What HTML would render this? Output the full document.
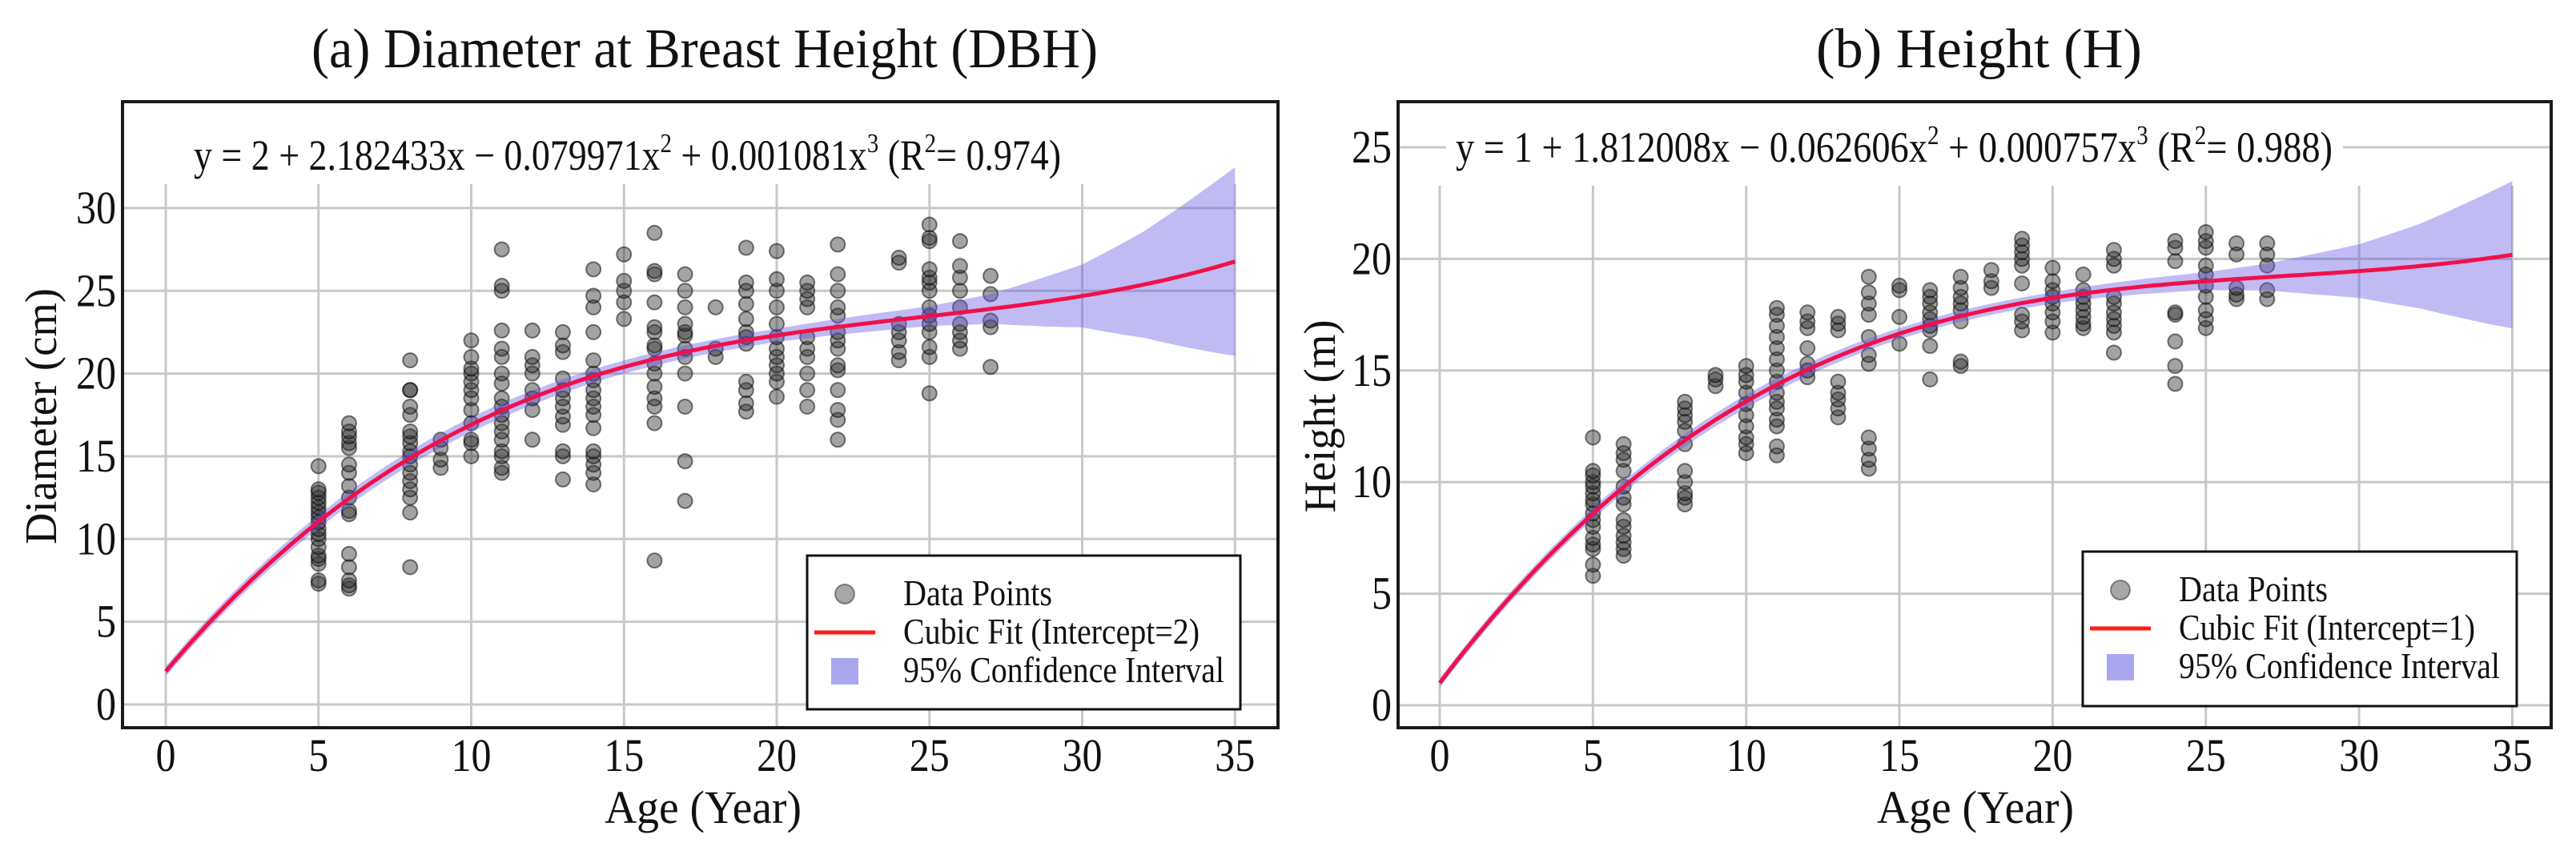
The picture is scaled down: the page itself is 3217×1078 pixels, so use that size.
<!DOCTYPE html>
<html><head><meta charset="utf-8"><style>
html,body{margin:0;padding:0;background:#fff;}
svg, svg text{font-family:"Liberation Serif","DejaVu Serif",serif;}
</style></head><body>
<svg id="fig" width="3217" height="1073" viewBox="0 0 3217 1073" xmlns="http://www.w3.org/2000/svg" font-family="Liberation Serif, DejaVu Serif, serif"></svg>
<script>
// ---- Data ----
const xTicks = [0,5,10,15,20,25,30,35];
const dbhYTicks = [0,5,10,15,20,25,30];
const hYTicks = [0,5,10,15,20,25];
const dbhCoef = [2, 2.182433, -0.079971, 0.001081];
const hCoef = [1, 1.812008, -0.062606, 0.000757];
const ciAges = [0,5,10,15,20,25,27,30,32,35];
const dbhCiHalf = [0.3,0.4,0.45,0.4,0.4,0.6,0.9,1.9,3.2,5.7];
const hCiHalf = [0.2,0.25,0.3,0.25,0.25,0.4,0.6,1.2,1.9,3.3];
const ages = [5,6,8,9,10,11,12,13,14,15,16,17,18,19,20,21,22,24,25,26,27];
const dbhValues = [
 [7.3,7.5,8.5,8.8,9,9.5,10,10.3,10.6,11,11.3,11.6,11.9,12.2,12.5,12.8,13,14.4],
 [7,7.2,7.5,8.3,9.1,11.5,11.7,12.5,13.2,14,14.5,15.5,15.8,16.2,16.5,17],
 [8.3,11.6,12.5,13,13.5,14,14.5,15,15.3,15.8,16.2,16.5,17.5,18,19,19,20.8],
 [14.3,14.8,15.5,16],
 [15,15.8,16,17,17.8,18.5,19,19.5,20,20.3,21,22],
 [14,14.3,15,15.3,16,16.5,17,17.5,18,18.5,19.4,20,21,21.5,22.6,25,25.3,27.5],
 [16,17.8,18.5,19,20,20.5,21,22.6],
 [13.6,15,15.3,16.9,17.4,18,18.5,19,19.7,21.3,21.7,22.5],
 [13.3,14,14.5,15,15.3,16.7,17.5,18,18.5,19,19.6,20,20.8,22.5,24,24.7,26.3],
 [23.3,24.3,25,25.6,27.2],
 [8.7,17,18,18.5,19.2,20,20.6,21.5,21.7,22.5,22.8,24.3,26,26.2,28.5],
 [12.3,14.7,18,20,21,21.5,22.3,22.5,23,24,25,26],
 [21,21.5,24],
 [17.7,18.2,19,19.5,21.8,22.2,22.5,23.3,24.2,25,25.5,27.6],
 [18.6,19.5,20,20.5,21,21.5,22.2,23,24,25,25.7,27.4],
 [18,19,20,21,21.5,22.2,24,24.5,25,25.5],
 [16,17.2,17.8,19,20.2,20.5,21.5,22,22.5,23.5,24,25,26,27.8],
 [20.8,21.3,22,22.5,23,26.7,27],
 [18.8,21,21.6,22.5,23,23.5,24,25,25.5,25.8,26.3,28,28.2,29],
 [21.5,22,22.5,23,24,25,25.8,26.5,28],
 [20.4,22.8,23.2,24.8,25.9]
];
const hValues = [
 [5.8,6.3,7,7.2,7.5,8,8.3,8.6,9,9.2,9.5,9.8,10,10.3,10.5,12],
 [6.7,7,7.3,7.6,8,8.3,9,9.3,9.8,10.5,11,11.3,11.7],
 [9,9.3,9.5,10,10.5,11.7,12.3,12.7,13,13.3,13.6],
 [14.3,14.6,14.8],
 [11.3,11.7,12,12.5,13,13.5,14,14.5,14.8,15.2],
 [11.2,11.6,12.5,12.8,13.3,13.6,14,14.5,15,15.5,16,16.5,17,17.5,17.8],
 [14.7,15,15.3,16,16.9,17.2,17.6],
 [12.9,13.3,13.7,14,14.5,16.8,17.1,17.4],
 [10.6,11,11.5,12,15.3,15.7,16.5,17.5,18,18.5,19.2],
 [16.2,17.4,18.6,18.8],
 [14.6,16.1,16.8,17,17.3,17.6,18,18.3,18.6],
 [15.2,15.4,17.2,17.7,18,18.3,18.7,19.2],
 [18.7,19,19.5],
 [16.8,17.2,17.5,18.9,19.7,20,20.3,20.6,20.9],
 [16.7,17.2,17.6,18,18.3,18.6,19,19.6],
 [16.9,17.1,17.4,17.7,18,18.3,18.6,19.3],
 [15.8,16.7,17,17.3,17.6,18,18.3,19.7,20,20.4],
 [14.4,15.2,16.3,17.5,17.6,19.9,20.5,20.8],
 [16.9,17.3,17.7,18.3,18.8,19.3,19.7,20.5,20.8,21.2],
 [18.2,18.4,18.7,20.2,20.7],
 [18.2,18.6,19.7,20.2,20.7]
];

const NS = "http://www.w3.org/2000/svg";
const FONT = '"Liberation Serif", "DejaVu Serif", serif';
const svg = document.getElementById('fig');
function mk(tag, attrs, parent){
  const e = document.createElementNS(NS, tag);
  for (const k in attrs) e.setAttribute(k, attrs[k]);
  if (tag === 'text') e.style.fontFamily = FONT;
  (parent||svg).appendChild(e);
  return e;
}
function interp(xs, ys, x){
  for (let i=0;i<xs.length-1;i++){
    if (x<=xs[i+1]){ const t=(x-xs[i])/(xs[i+1]-xs[i]); return ys[i]+t*(ys[i+1]-ys[i]); }
  }
  return ys[ys.length-1];
}
function poly(c,x){ return c[0]+c[1]*x+c[2]*x*x+c[3]*x*x*x; }

function panel(cfg){
  const g = mk('g',{});
  
  
  const sx = v => cfg.x0 + v*cfg.xs;
  const sy = v => cfg.y0 - v*cfg.ys;
  const B = cfg.box;
  const grid = mk('g',{stroke:'#c8c8c8','stroke-width':3},g);
  
  
  xTicks.forEach(t=>{ mk('line',{x1:sx(t),x2:sx(t),y1:cfg.vgTop,y2:B.b},grid); });
  cfg.yTicks.forEach(t=>{ mk('line',{x1:B.l,x2:B.r,y1:sy(t),y2:sy(t)},grid); });
  mk('rect',{x:cfg.eq.bx,y:cfg.eq.by,width:cfg.eq.bw,height:cfg.eq.bh,fill:'#fff'},g);
  const pts = mk('g',{},g);
  
  
  ages.forEach((a,i)=>{
    cfg.values[i].forEach(v=>{
      const c = mk('circle',{cx:sx(a),cy:sy(v),r:9,fill:'rgba(50,50,50,0.45)',stroke:'rgba(0,0,0,0.5)','stroke-width':2},pts);
      
      
    });
  });
  let up=[], lo=[];
  for (let x=0;x<=35.0001;x+=0.25){
    const f=poly(cfg.coef,x), h=interp(ciAges,cfg.ci,x);
    up.push(sx(x).toFixed(1)+','+sy(f+h).toFixed(1));
    lo.unshift(sx(x).toFixed(1)+','+sy(f-h).toFixed(1));
  }
  const band = mk('polygon',{points:up.concat(lo).join(' '),fill:'rgba(100,85,225,0.4)'},g);
  
  
  let lp=[];
  for (let x=0;x<=35.0001;x+=0.25) lp.push(sx(x).toFixed(1)+','+sy(poly(cfg.coef,x)).toFixed(1));
  const line = mk('polyline',{points:lp.join(' '),fill:'none',stroke:'#f0104a','stroke-width':5},g);
  
  
  const bx = mk('rect',{x:B.l,y:B.t,width:B.r-B.l,height:B.b-B.t,fill:'none',stroke:'#1a1a1a','stroke-width':4},g);
  
  
  xTicks.forEach(t=>{
    const s = String(t);
    const e = mk('text',{x:sx(t),y:963,'font-size':58,'text-anchor':'middle',textLength:s.length*25,lengthAdjust:'spacingAndGlyphs',fill:'#111'},g);
    e.textContent = s;
    
    
  });
  cfg.yTicks.forEach(t=>{
    const s = String(t);
    const e = mk('text',{x:B.l-8-s.length*25,y:sy(t)+19,'font-size':58,textLength:s.length*25,lengthAdjust:'spacingAndGlyphs',fill:'#111'},g);
    e.textContent = s;
    
    
  });
  const eq = mk('text',{x:cfg.eq.x,y:cfg.eq.y,'font-size':54,textLength:cfg.eq.w,lengthAdjust:'spacingAndGlyphs',fill:'#111'},g);
  
  
  eq.innerHTML = cfg.eq.html;
  const ti = mk('text',{x:cfg.title.x,y:84,'font-size':70,textLength:cfg.title.w,lengthAdjust:'spacingAndGlyphs',fill:'#111'},g);
  ti.textContent = cfg.title.t;
  
  
  const xl = mk('text',{x:cfg.xl.x,y:1028,'font-size':58,textLength:246,lengthAdjust:'spacingAndGlyphs',fill:'#111'},g);
  xl.textContent = 'Age (Year)';
  
  
  const yl = mk('text',{x:0,y:0,'font-size':56,'text-anchor':'middle',textLength:cfg.yl.w,lengthAdjust:'spacingAndGlyphs',fill:'#111',transform:`translate(${cfg.yl.x},520) rotate(-90)`},g);
  yl.textContent = cfg.yl.t;
  
  
  const L = cfg.leg;
  const lg = mk('g',{},g);
  
  
  mk('rect',{x:L.l,y:L.t,width:L.r-L.l,height:L.b-L.t,fill:'#fff',stroke:'#111','stroke-width':3},lg);
  mk('circle',{cx:L.mx,cy:L.t+48,r:12,fill:'rgba(60,60,60,0.45)',stroke:'rgba(0,0,0,0.4)','stroke-width':2},lg);
  mk('line',{x1:L.mx-38,x2:L.mx+38,y1:L.t+96,y2:L.t+96,stroke:'#ff1a1a','stroke-width':5},lg);
  mk('rect',{x:L.mx-17,y:L.t+128,width:34,height:33,fill:'#aaa6ee'},lg);
  const labels = ['Data Points', cfg.fitLabel, '95% Confidence Interval'];
  const widths = [186, 370, 401];
  labels.forEach((s,i)=>{
    const e = mk('text',{x:L.tx,y:L.t+62+i*48,'font-size':46,textLength:widths[i],lengthAdjust:'spacingAndGlyphs',fill:'#111'},lg);
    e.textContent = s;
    
    
  });
}

panel({name:'panel-dbh', x0:207, xs:38.15, y0:880, ys:20.67, box:{l:153,r:1596,t:127,b:909}, vgTop:230,
  yTicks:dbhYTicks, values:dbhValues, coef:dbhCoef, ci:dbhCiHalf,
  eq:{x:242,y:212,w:1083,bx:230,by:155,bw:1110,bh:74,
      html:'y = 2 + 2.182433x − 0.079971x<tspan dy="-22" font-size="34">2</tspan><tspan dy="22"> + 0.001081x</tspan><tspan dy="-22" font-size="34">3</tspan><tspan dy="22">  (R</tspan><tspan dy="-22" font-size="34">2</tspan><tspan dy="22">= 0.974)</tspan>'},
  title:{x:389,w:982,t:'(a) Diameter at Breast Height (DBH)'},
  xl:{x:755}, yl:{x:70,w:320,t:'Diameter (cm)'},
  leg:{l:1008,r:1549,t:694,b:886,mx:1055,tx:1128}, fitLabel:'Cubic Fit (Intercept=2)'});

panel({name:'panel-height', x0:1798, xs:38.27, y0:881, ys:27.88, box:{l:1746,r:3186,t:127,b:909}, vgTop:232,
  yTicks:hYTicks, values:hValues, coef:hCoef, ci:hCiHalf,
  eq:{x:1818,y:202,w:1095,bx:1806,by:148,bw:1120,bh:76,
      html:'y = 1 + 1.812008x − 0.062606x<tspan dy="-22" font-size="34">2</tspan><tspan dy="22"> + 0.000757x</tspan><tspan dy="-22" font-size="34">3</tspan><tspan dy="22">  (R</tspan><tspan dy="-22" font-size="34">2</tspan><tspan dy="22">= 0.988)</tspan>'},
  title:{x:2268,w:407,t:'(b) Height (H)'},
  xl:{x:2344}, yl:{x:1667,w:241,t:'Height (m)'},
  leg:{l:2601,r:3143,t:689,b:882,mx:2648,tx:2721}, fitLabel:'Cubic Fit (Intercept=1)'});
</script>
</body></html>
